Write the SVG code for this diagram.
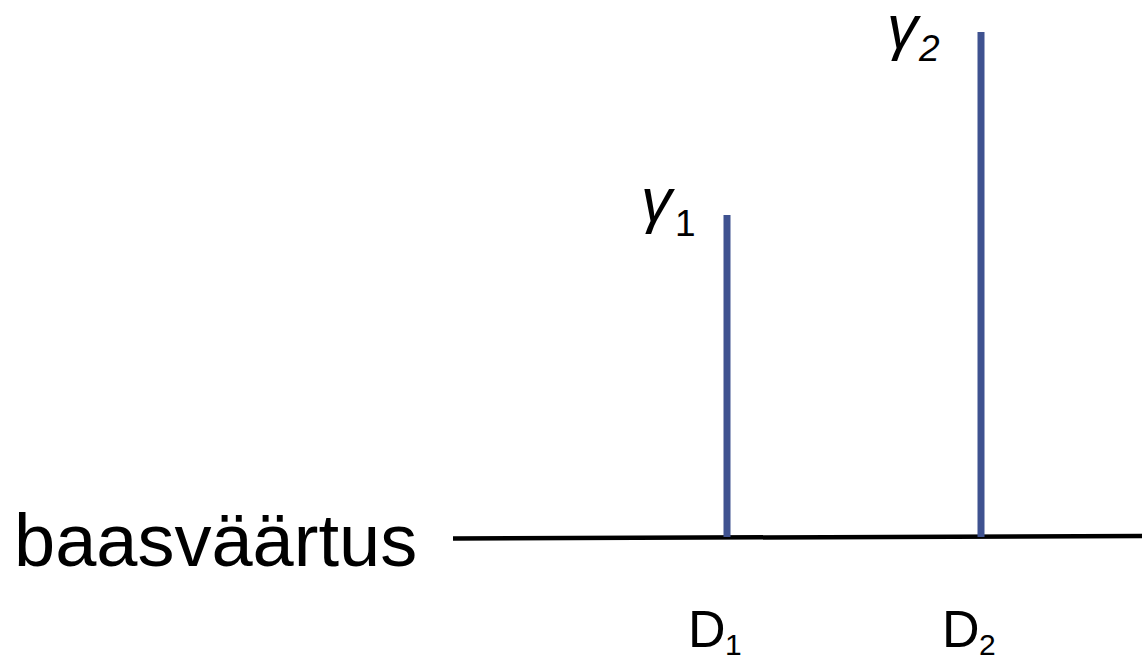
<svg xmlns="http://www.w3.org/2000/svg" width="1142" height="661" viewBox="0 0 1142 661">
<style>
.t{font-family:"Liberation Sans",Arial,sans-serif;fill:#000}
.bar{stroke:#3F5290;stroke-width:7}
.base{stroke:#000;stroke-width:4.5}
</style>
<rect width="1142" height="661" fill="#fff"/>
<g id="connectors">
<line class="base" x1="453" y1="538.5" x2="1142" y2="536"/>
<line class="bar" x1="727" y1="215" x2="727" y2="537"/>
<line class="bar" x1="981" y1="32" x2="981" y2="537"/>
</g>
<g id="baseline-label">
<text class="t" x="14" y="566" font-size="74">baasväärtus</text>
</g>
<g id="gamma1">
<text class="t" x="641" y="221" font-size="62" font-style="italic">γ</text>
<text class="t" x="675" y="236" font-size="37">1</text>
</g>
<g id="gamma2">
<text class="t" x="887" y="48" font-size="62" font-style="italic">γ</text>
<text class="t" x="919" y="61" font-size="37" font-style="italic">2</text>
</g>
<g id="d1">
<text class="t" x="688" y="647" font-size="52">D</text>
<text class="t" x="725" y="655" font-size="30">1</text>
</g>
<g id="d2">
<text class="t" x="942" y="647" font-size="52">D</text>
<text class="t" x="979" y="655" font-size="30">2</text>
</g>
</svg>
